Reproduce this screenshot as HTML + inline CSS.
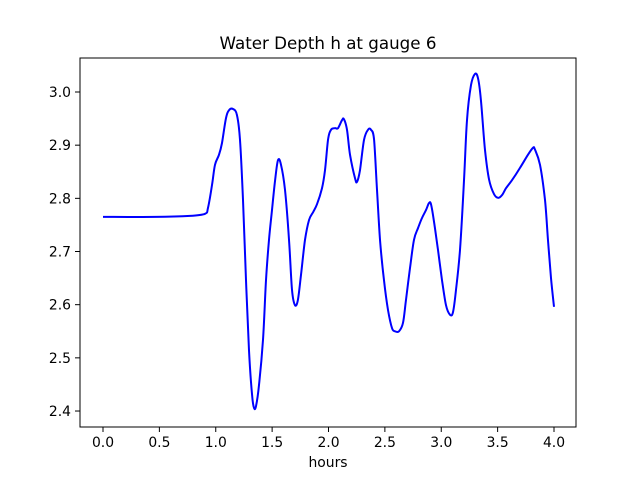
<!DOCTYPE html>
<html><head><meta charset="utf-8"><style>
body{margin:0;background:#fff;}
svg text{font-family:"DejaVu Sans","Liberation Sans",sans-serif;fill:#000;}
</style></head><body>
<svg id="chart" width="640" height="480" xmlns="http://www.w3.org/2000/svg">
<rect width="640" height="480" fill="#fff"/>
<text x="328" y="49" text-anchor="middle" font-size="16.7">Water Depth h at gauge 6</text>
<g id="xt"></g><g id="yt"></g>
<path id="line" fill="none" stroke="#0000ff" stroke-width="2" stroke-linejoin="round"/>
<rect x="80" y="58" width="496" height="369" fill="none" stroke="#000" stroke-width="1"/>
<text x="328" y="467" text-anchor="middle" font-size="13.9">hours</text>
</svg>
<script>
const hours=[0,0.461,0.772,0.905,0.931,0.967,0.993,1.029,1.055,1.091,1.118,1.153,1.188,1.215,1.242,1.268,1.295,1.322,1.339,1.357,1.384,1.419,1.446,1.472,1.499,1.526,1.552,1.579,1.614,1.650,1.676,1.703,1.729,1.756,1.792,1.827,1.863,1.898,1.942,1.969,1.996,2.022,2.058,2.084,2.120,2.137,2.164,2.191,2.235,2.253,2.279,2.315,2.350,2.377,2.404,2.430,2.457,2.492,2.528,2.563,2.590,2.625,2.661,2.687,2.723,2.758,2.794,2.829,2.865,2.891,2.909,2.936,2.971,3.007,3.042,3.078,3.104,3.131,3.166,3.202,3.228,3.264,3.299,3.326,3.352,3.388,3.424,3.468,3.503,3.539,3.574,3.627,3.698,3.769,3.814,3.831,3.876,3.920,3.947,3.973,4.0];
const depth=[2.765,2.765,2.767,2.771,2.782,2.825,2.863,2.882,2.904,2.951,2.966,2.968,2.957,2.910,2.797,2.646,2.514,2.430,2.406,2.409,2.449,2.534,2.646,2.722,2.778,2.834,2.872,2.863,2.816,2.722,2.628,2.599,2.609,2.656,2.722,2.759,2.774,2.789,2.819,2.853,2.910,2.929,2.932,2.932,2.947,2.949,2.929,2.882,2.838,2.831,2.853,2.910,2.929,2.929,2.910,2.816,2.722,2.646,2.590,2.556,2.550,2.550,2.566,2.609,2.669,2.722,2.744,2.763,2.778,2.791,2.789,2.756,2.703,2.646,2.599,2.581,2.586,2.628,2.703,2.834,2.947,3.013,3.034,3.026,2.985,2.891,2.835,2.808,2.801,2.806,2.819,2.834,2.857,2.882,2.895,2.892,2.863,2.797,2.721,2.650,2.596];
const xTicks=[0,0.5,1,1.5,2,2.5,3,3.5,4];
const yTicks=[2.4,2.5,2.6,2.7,2.8,2.9,3.0];
const X=v=>103+v*112.75;
const Y=v=>92+(3.0-v)*531.7;
const NS='http://www.w3.org/2000/svg';
const pts=hours.map((h,i)=>[X(h),Y(depth[i])]);
let d='M'+pts[0][0].toFixed(1)+','+pts[0][1].toFixed(1);
for(let i=0;i<pts.length-1;i++){
  const p0=pts[Math.max(0,i-1)],p1=pts[i],p2=pts[i+1],p3=pts[Math.min(pts.length-1,i+2)];
  const c1x=p1[0]+(p2[0]-p0[0])/6,c1y=p1[1]+(p2[1]-p0[1])/6;
  const c2x=p2[0]-(p3[0]-p1[0])/6,c2y=p2[1]-(p3[1]-p1[1])/6;
  d+=' C'+c1x.toFixed(1)+','+c1y.toFixed(1)+' '+c2x.toFixed(1)+','+c2y.toFixed(1)+' '+p2[0].toFixed(1)+','+p2[1].toFixed(1);
}
document.getElementById('line').setAttribute('d',d);
const xt=document.getElementById('xt'),yt=document.getElementById('yt');
xTicks.forEach(t=>{
  const l=document.createElementNS(NS,'line');
  
  
  l.setAttribute('x1',X(t));l.setAttribute('x2',X(t));l.setAttribute('y1',427);l.setAttribute('y2',432);l.setAttribute('stroke','#000');
  xt.appendChild(l);
  const s=document.createElementNS(NS,'text');
  
  
  s.setAttribute('x',X(t));s.setAttribute('y',447);s.setAttribute('text-anchor','middle');s.setAttribute('font-size','13.9');
  s.textContent=t.toFixed(1);xt.appendChild(s);
});
yTicks.forEach(t=>{
  const l=document.createElementNS(NS,'line');
  
  
  l.setAttribute('x1',75);l.setAttribute('x2',80);l.setAttribute('y1',Y(t));l.setAttribute('y2',Y(t));l.setAttribute('stroke','#000');
  yt.appendChild(l);
  const s=document.createElementNS(NS,'text');
  
  
  s.setAttribute('x',71);s.setAttribute('y',Y(t)+5);s.setAttribute('text-anchor','end');s.setAttribute('font-size','13.9');
  s.textContent=t.toFixed(1);yt.appendChild(s);
});
</script>
</body></html>
